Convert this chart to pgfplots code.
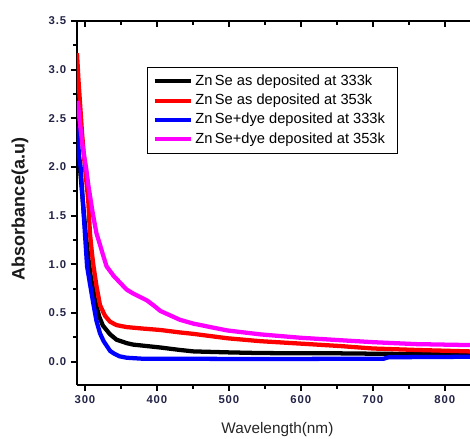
\documentclass[border=0pt]{standalone}
\usepackage{pgfplots}
\pgfplotsset{compat=1.18}
\usepackage{fontspec}
\setmainfont{Liberation Sans}
\definecolor{tickc}{RGB}{35,35,70}
\definecolor{mag}{RGB}{255,0,255}
\begin{document}
\begin{tikzpicture}
\begin{axis}[name=ax, scale only axis, width=294.75pt, height=273pt,
  xmin=289, xmax=835, ymin=-0.24, ymax=3.5,
  axis x line*=bottom, axis y line*=left,
  axis line style={-, line width=2pt, black},
  xtick={300,400,...,800}, ytick={0,0.5,...,3.5},
  minor x tick num=1, minor y tick num=1,
  tick align=outside,
  major tick length=4.5pt, minor tick length=3pt,
  every tick/.style={black, line width=1.5pt},
  /pgf/number format/assume math mode=true,
  yticklabel style={/pgf/number format/fixed, /pgf/number format/fixed zerofill, /pgf/number format/precision=1},
  xticklabel style={/pgf/number format/1000 sep={}},
  ticklabel style={font=\fontsize{8.5}{10}\selectfont\bfseries\addfontfeature{LetterSpace=8}, text=tickc},
  xlabel={Wavelength(nm)}, ylabel={\bfseries Absorbance(a.u)},
  xlabel style={at={(axis description cs:0.51,0)}, anchor=center, yshift=-33.75pt, font=\fontsize{11.5}{13}\selectfont, text=black!85},
  ylabel style={at={(axis description cs:0,0.4835)}, anchor=center, yshift=42.75pt, font=\fontsize{13.5}{15}\selectfont, text=black!90},
  legend style={at={(axis description cs:0.178,0.874)}, anchor=north west, draw=black, line width=0.7pt,
    font=\fontsize{11}{13}\selectfont, inner xsep=4pt, inner ysep=3pt, row sep=0pt,
    nodes={inner ysep=1.8pt, text height=8.5pt, text depth=2.5pt}},
  legend cell align=left,
  legend image code/.code={\draw[#1, line width=3pt] (0pt,0pt) -- (27pt,0pt);},
  every axis plot/.append style={line width=3.2pt, line join=round},
]
\addplot[black] coordinates {(289,2.3)(293,2.0)(297,1.66)(301,1.32)(305,1.05)(308,0.88)(311.6,0.74)(314,0.63)(320,0.46)(325,0.37)(335,0.28)(344,0.225)(358,0.19)(367,0.175)(405,0.145)(432,0.12)(451,0.105)(500,0.095)(544,0.088)(600,0.086)(655,0.085)(720,0.08)(835,0.075)};
\addlegendentry{Zn\,Se as deposited at 333k\hspace*{3pt}}
\addplot[red] coordinates {(289,3.17)(291,2.9)(293,2.68)(296,2.35)(300,2.0)(304.6,1.66)(307,1.32)(310,1.1)(312,0.98)(316,0.78)(321,0.58)(328,0.47)(335,0.41)(344,0.375)(358,0.355)(380,0.34)(405,0.325)(432,0.3)(451,0.285)(498,0.24)(544,0.21)(600,0.185)(655,0.16)(700,0.135)(760,0.12)(835,0.105)};
\addlegendentry{Zn\,Se as deposited at 353k\hspace*{3pt}}
\addplot[blue] coordinates {(289,2.42)(292,2.1)(294,2.0)(297,1.66)(300,1.32)(303,0.98)(307,0.8)(311.6,0.6)(316,0.42)(321,0.29)(326,0.21)(335,0.11)(340,0.085)(348,0.055)(358,0.04)(380,0.03)(500,0.028)(600,0.028)(715,0.03)(722,0.045)(835,0.05)};
\addlegendentry{Zn\,Se+dye deposited at 333k\hspace*{3pt}}
\addplot[mag] coordinates {(290,2.68)(293,2.45)(297,2.2)(301.5,2.0)(305,1.8)(308,1.66)(311,1.52)(316,1.32)(321,1.2)(325,1.1)(330,0.98)(340,0.88)(349,0.81)(358,0.74)(367,0.7)(386,0.63)(395,0.58)(405,0.52)(432,0.43)(451,0.39)(498,0.32)(544,0.28)(600,0.245)(655,0.22)(700,0.2)(760,0.18)(835,0.17)};
\addlegendentry{Zn\,Se+dye deposited at 353k\hspace*{3pt}}
\end{axis}
\begin{axis}[scale only axis, width=294.75pt, height=273pt,
  xmin=289, xmax=835, ymin=-0.24, ymax=3.5,
  axis x line*=top, axis y line=none,
  axis line style={-, line width=2pt, black},
  xtick={300,400,...,800}, minor x tick num=1, xticklabels={},
  tick align=inside, major tick length=4.5pt, minor tick length=3pt,
  every tick/.style={black, line width=1.5pt}]
\end{axis}
\pgfresetboundingbox
\path[use as bounding box] ([shift={(-57.75pt,-40.5pt)}]ax.south west) rectangle ([shift={(0pt,15.75pt)}]ax.north east);
\end{tikzpicture}
\end{document}
